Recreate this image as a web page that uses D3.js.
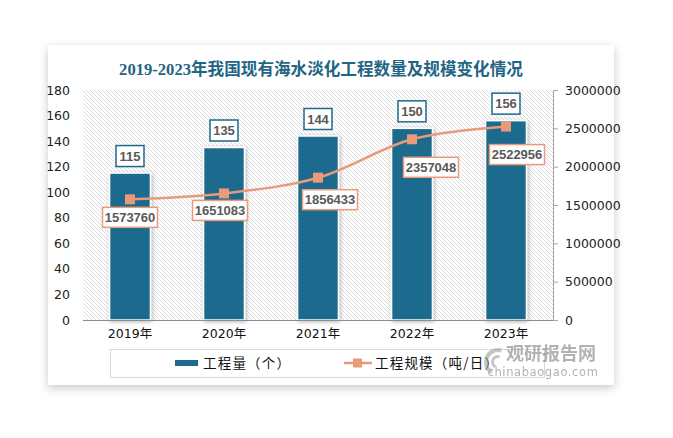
<!DOCTYPE html>
<html><head><meta charset="utf-8">
<script src="https://cdn.jsdelivr.net/npm/d3@7/dist/d3.min.js"></script>
<style>
html,body{margin:0;padding:0;background:#fff;}
svg{display:block;}
</style></head>
<body>
<svg id="chart" width="673" height="438"></svg>
<script>
const title = "2019-2023年我国现有海水淡化工程数量及规模变化情况";
const categories = ["2019年","2020年","2021年","2022年","2023年"];
const countValues = [115,135,144,150,156];
const scaleValues = [1573760,1651083,1856433,2357048,2522956];
const leftTicks = [0,20,40,60,80,100,120,140,160,180];
const rightTicks = [0,500000,1000000,1500000,2000000,2500000,3000000];
const seriesNames = ["工程量（个）","工程规模（吨/日）"];
// label nudges (layout only)
const lineLabelDx = [0,-4,12,19,11];
const lineLabelDy = [8,7,12,18,18];

(function(){
const svg = d3.select("#chart");
const defs = svg.append("defs");
const sh = defs.append("filter").attr("id","cardShadow").attr("x","-10%").attr("y","-10%").attr("width","120%").attr("height","125%");
sh.append("feDropShadow").attr("dx",0).attr("dy",3).attr("stdDeviation",5).attr("flood-color","#000").attr("flood-opacity",0.22);
const bsh = defs.append("filter").attr("id","barShadow").attr("x","-30%").attr("y","-10%").attr("width","160%").attr("height","120%");
bsh.append("feDropShadow").attr("dx",1).attr("dy",1).attr("stdDeviation",2).attr("flood-color","#000").attr("flood-opacity",0.3);
const pat = defs.append("pattern").attr("id","hatch").attr("patternUnits","userSpaceOnUse").attr("width",4).attr("height",4);
pat.append("path").attr("d","M-1,-1 L5,5 M-1,3 L1,5 M3,-1 L5,1").attr("stroke","#d4d4d4").attr("stroke-width",0.8);

// card
svg.append("rect").attr("x",48).attr("y",45).attr("width",566).attr("height",340).attr("fill","#fff").attr("filter","url(#cardShadow)");

svg.append("text").attr("x",321).attr("y",75).attr("text-anchor","middle")
  .attr("font-family","'Liberation Serif','Noto Sans CJK SC',serif").attr("font-weight","bold")
  .attr("font-size",16.6).attr("fill","#1f6584").text(title);

const pL = 83, pR = 553, pT = 90, pB = 320;
const x = d3.scaleBand().domain(categories).range([pL,pR]).paddingInner(0.565).paddingOuter(0.2825);
const yL = d3.scaleLinear().domain([0,180]).range([pB,pT]);
const yR = d3.scaleLinear().domain([0,3000000]).range([pB,pT]);

svg.append("rect").attr("x",pL).attr("y",pT).attr("width",pR-pL).attr("height",pB-pT).attr("fill","url(#hatch)");

// left axis (labels only)
const axL = svg.append("g").attr("transform",`translate(${pL},0)`)
  .call(d3.axisLeft(yL).tickValues(leftTicks).tickSize(0).tickPadding(13));
axL.select(".domain").remove();
axL.selectAll("text").attr("font-family","'DejaVu Sans',sans-serif").attr("font-size",12.5).attr("fill","#222");

// right axis
const axR = svg.append("g").attr("transform",`translate(${pR},0)`)
  .call(d3.axisRight(yR).tickValues(rightTicks).tickSize(5).tickSizeOuter(5).tickPadding(7).tickFormat(d3.format("d")));
axR.select(".domain").attr("stroke","#a6a6a6");
axR.selectAll("line").attr("stroke","#a6a6a6");
axR.selectAll("text").attr("font-family","'DejaVu Sans',sans-serif").attr("font-size",12.5).attr("fill","#222");

// bars
svg.append("g").selectAll("rect").data(countValues).join("rect")
  .attr("x",(d,i)=>x(categories[i])).attr("y",d=>yL(d))
  .attr("width",x.bandwidth()).attr("height",d=>pB-yL(d))
  .attr("fill","#1d6a8d").attr("stroke","#fff").attr("stroke-width",1.5).attr("filter","url(#barShadow)");

// x axis
const axB = svg.append("g").attr("transform",`translate(0,${pB})`)
  .call(d3.axisBottom(x).tickSize(0).tickPadding(9));
axB.select(".domain").attr("stroke","#8c8c8c").attr("stroke-width",1.2).attr("d",`M${pL},0.5H${pR}`);
axB.selectAll("text").attr("font-family","'DejaVu Sans','Noto Sans CJK SC',sans-serif").attr("font-size",12.5).attr("fill","#111");

// line
const cx = i => x(categories[i]) + x.bandwidth()/2;
const line = d3.line().x((d,i)=>cx(i)).y(d=>yR(d)).curve(d3.curveCatmullRom.alpha(0.5));
svg.append("path").datum(scaleValues).attr("d",line).attr("fill","none").attr("stroke","#e89a7b").attr("stroke-width",2.5);
svg.append("g").selectAll("rect").data(scaleValues).join("rect")
  .attr("x",(d,i)=>cx(i)-5).attr("y",d=>yR(d)-5).attr("width",10).attr("height",10).attr("fill","#e89a7b");

// bar labels
const lblFont = "'Liberation Sans',Arial,sans-serif";
const bl = svg.append("g").selectAll("g").data(countValues).join("g")
  .attr("transform",(d,i)=>`translate(${cx(i)},${yL(d)-17})`);
bl.append("rect").attr("x",-14).attr("y",-10.5).attr("width",28).attr("height",21).attr("fill","#fff").attr("stroke","#1d6a8d").attr("stroke-width",1.5);
bl.append("text").attr("text-anchor","middle").attr("dy","0.36em").attr("font-family",lblFont).attr("font-weight","bold").attr("font-size",13).attr("fill","#595959").text(d=>d);

// line labels
const ll = svg.append("g").selectAll("g").data(scaleValues).join("g")
  .attr("transform",(d,i)=>`translate(${cx(i)+lineLabelDx[i]},${yR(d)+lineLabelDy[i]+10})`);
ll.append("rect").attr("x",-27.5).attr("y",-10).attr("width",55).attr("height",20).attr("fill","#fff").attr("stroke","#e89a7b").attr("stroke-width",1.5);
ll.append("text").attr("text-anchor","middle").attr("dy","0.36em").attr("font-family",lblFont).attr("font-weight","bold").attr("font-size",13).attr("fill","#595959").text(d=>d);

// legend
svg.append("rect").attr("x",110.5).attr("y",349.5).attr("width",434).attr("height",28).attr("fill","none").attr("stroke","#d9d9d9");
svg.append("rect").attr("x",175).attr("y",360).attr("width",23).attr("height",6).attr("fill","#1d6a8d");
const legFont = "'Noto Sans CJK SC',sans-serif";
svg.append("text").attr("x",203).attr("y",368).attr("font-family",legFont).attr("font-size",13.5).attr("letter-spacing",1.2).attr("fill","#111").text(seriesNames[0]);
svg.append("line").attr("x1",344).attr("x2",372).attr("y1",363).attr("y2",363).attr("stroke","#e89a7b").attr("stroke-width",2.5);
svg.append("rect").attr("x",353).attr("y",358.5).attr("width",9).attr("height",9).attr("fill","#e89a7b");
svg.append("text").attr("x",375).attr("y",368).attr("font-family",legFont).attr("font-size",13.5).attr("letter-spacing",1.2).attr("fill","#111").text(seriesNames[1]);

// watermark
const wm = svg.append("g").attr("opacity",0.6);
wm.append("path").attr("d",d3.arc()({innerRadius:10,outerRadius:14,startAngle:-2.6,endAngle:0.3})).attr("transform","translate(498,362)").attr("fill","#a0a0a0");
wm.append("path").attr("d",d3.arc()({innerRadius:4,outerRadius:7,startAngle:-2.6,endAngle:0.3})).attr("transform","translate(498,362)").attr("fill","#a0a0a0");
wm.append("text").attr("x",551).attr("y",360).attr("text-anchor","middle").attr("font-family",legFont).attr("font-weight","bold").attr("font-size",18).attr("fill","#808080").text("观研报告网");
wm.append("text").attr("x",543).attr("y",376).attr("text-anchor","middle").attr("font-family","'DejaVu Sans',sans-serif").attr("font-size",11.5).attr("letter-spacing",0.6).attr("fill","#808080").text("chinabaogao.com");
})();
</script>
</body></html>
